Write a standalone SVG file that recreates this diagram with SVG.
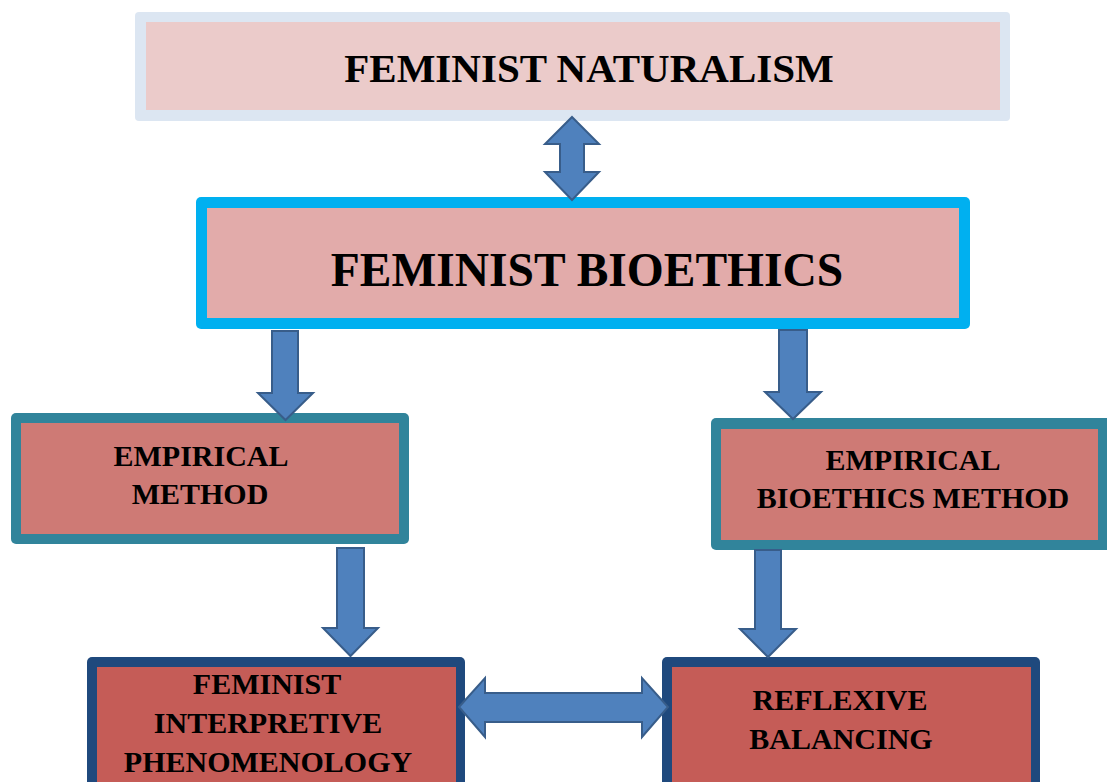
<svg xmlns="http://www.w3.org/2000/svg" width="1107" height="782" viewBox="0 0 1107 782">
  <style>
    .lbl { font-family: "Liberation Serif", "Times New Roman", serif; font-weight: bold; fill: #000; text-anchor: middle; }
    .arrow { fill: #4F81BD; stroke: #385D8A; stroke-width: 2; stroke-linejoin: miter; }
  </style>
  <rect width="1107" height="782" fill="#FFFFFF"/>

  <!-- top node -->
  <g id="feminist-naturalism">
    <rect x="135" y="12" width="875" height="109" rx="4" fill="#DCE6F2"/>
    <rect x="146" y="22" width="854" height="88" fill="#EBCBCA"/>
    <text class="lbl" x="589" y="82" font-size="41">FEMINIST NATURALISM</text>
  </g>

  <!-- central node -->
  <g id="feminist-bioethics">
    <rect x="196" y="197" width="774" height="132" rx="5" fill="#00B0F0"/>
    <rect x="207" y="208" width="752" height="110" fill="#E2ABAA"/>
    <text class="lbl" x="587" y="286" font-size="47.5">FEMINIST BIOETHICS</text>
  </g>

  <!-- second level -->
  <g id="empirical-method">
    <rect x="11" y="413" width="398" height="131" rx="5" fill="#31849B"/>
    <rect x="21" y="423" width="378" height="111" fill="#CE7A75"/>
    <text class="lbl" x="201" y="466" font-size="30">EMPIRICAL</text>
    <text class="lbl" x="200" y="504" font-size="30">METHOD</text>
  </g>

  <g id="empirical-bioethics-method">
    <rect x="711" y="418" width="400" height="132" rx="5" fill="#31849B"/>
    <rect x="721" y="429" width="377" height="111" fill="#CE7A75"/>
    <text class="lbl" x="913" y="470" font-size="30">EMPIRICAL</text>
    <text class="lbl" x="913" y="508" font-size="30">BIOETHICS METHOD</text>
  </g>

  <!-- third level -->
  <g id="feminist-interpretive-phenomenology">
    <rect x="87" y="657" width="378" height="135" rx="5" fill="#1F497D"/>
    <rect x="97" y="667" width="359" height="125" fill="#C55C57"/>
    <text class="lbl" x="267" y="694" font-size="30">FEMINIST</text>
    <text class="lbl" x="268" y="733" font-size="30">INTERPRETIVE</text>
    <text class="lbl" x="268" y="772" font-size="30">PHENOMENOLOGY</text>
  </g>

  <g id="reflexive-balancing">
    <rect x="662" y="657" width="378" height="135" rx="5" fill="#1F497D"/>
    <rect x="672" y="667" width="359" height="125" fill="#C55C57"/>
    <text class="lbl" x="840" y="710" font-size="30">REFLEXIVE</text>
    <text class="lbl" x="841" y="749" font-size="30">BALANCING</text>
  </g>

  <!-- block arrows -->
  <g id="connectors">
    <!-- naturalism <-> bioethics -->
    <path class="arrow" d="M572,117 L599,144 L584,144 L584,172 L599,172 L572,200 L545,172 L560,172 L560,144 L545,144 Z"/>
    <!-- bioethics -> empirical method -->
    <path class="arrow" d="M272,331 L298,331 L298,393 L313,393 L285.5,420 L258,393 L272,393 Z"/>
    <!-- bioethics -> empirical bioethics method -->
    <path class="arrow" d="M779,330 L807,330 L807,392 L821,392 L793,419 L765,392 L779,392 Z"/>
    <!-- empirical method -> phenomenology -->
    <path class="arrow" d="M337,548 L364,548 L364,628 L378,628 L350.5,656 L323,628 L337,628 Z"/>
    <!-- empirical bioethics method -> reflexive balancing -->
    <path class="arrow" d="M755,550 L781,550 L781,629 L796,629 L768,657 L740,629 L755,629 Z"/>
    <!-- phenomenology <-> reflexive balancing -->
    <path class="arrow" d="M459,707 L485,678 L485,693 L642,693 L642,678 L668,707 L642,737 L642,722 L485,722 L485,737 Z"/>
  </g>
</svg>
